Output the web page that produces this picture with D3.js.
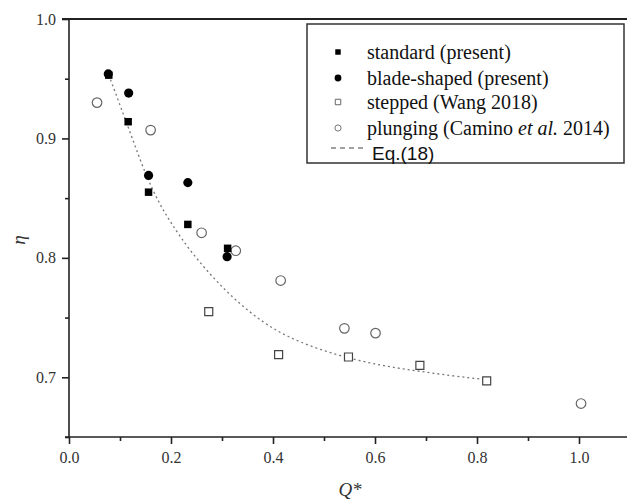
<!DOCTYPE html>
<html>
<head>
<meta charset="utf-8">
<script src="https://cdn.jsdelivr.net/npm/d3@7"></script>
<style>
  html, body { margin: 0; padding: 0; background: #fff; }
  svg { display: block; }
</style>
</head>
<body>
<svg id="chart" width="627" height="500"></svg>
<script>
// Efficiency eta versus dimensionless discharge Q*
const standardQ   = [0.078, 0.116, 0.156, 0.233, 0.311];
const standardEta = [0.953, 0.914, 0.855, 0.828, 0.808];

const bladeQ   = [0.077, 0.117, 0.156, 0.233, 0.310];
const bladeEta = [0.954, 0.938, 0.869, 0.863, 0.801];

const steppedQ   = [0.274, 0.411, 0.548, 0.688, 0.819];
const steppedEta = [0.755, 0.719, 0.717, 0.710, 0.697];

const plungingQ   = [0.055, 0.160, 0.260, 0.327, 0.415, 0.540, 0.601, 1.004];
const plungingEta = [0.930, 0.907, 0.821, 0.806, 0.781, 0.741, 0.737, 0.678];

// Eq.(18) fitted curve, sampled along its length
const eqQ   = [0.078, 0.100, 0.125, 0.150, 0.175, 0.200, 0.237, 0.283, 0.330, 0.380, 0.427, 0.492, 0.557, 0.623, 0.688, 0.754, 0.819];
const eqEta = [0.953, 0.928, 0.899, 0.870, 0.847, 0.829, 0.806, 0.783, 0.763, 0.746, 0.734, 0.723, 0.715, 0.709, 0.705, 0.701, 0.698];

const xTicks = [0.0, 0.2, 0.4, 0.6, 0.8, 1.0];
const yTicks = [0.7, 0.8, 0.9, 1.0];
const xMinor = [0.1, 0.3, 0.5, 0.7, 0.9, 1.1];
const yMinor = [0.65, 0.75, 0.85, 0.95];

const legendLabels = ["standard (present)", "blade-shaped (present)", "stepped (Wang 2018)"];

const zip = (a, b) => a.map((v, i) => [v, b[i]]);

const svg = d3.select("#chart");
const x = d3.scaleLinear().domain([0, 1.1]).range([69, 630]);
const y = d3.scaleLinear().domain([0.65, 1.0]).range([437, 19]);

const serif = "'Liberation Serif', 'Times New Roman', serif";
const axisColor = "#222";

// top frame line
svg.append("line")
  .attr("x1", 62).attr("x2", 627).attr("y1", y(1.0)).attr("y2", y(1.0))
  .attr("stroke", axisColor).attr("stroke-width", 2);

// axes
const xAxis = svg.append("g").attr("transform", `translate(0,${y(0.65)})`)
  .call(d3.axisBottom(x).tickValues(xTicks).tickFormat(d3.format(".1f")).tickSize(7).tickPadding(8));
svg.append("g").attr("transform", `translate(0,${y(0.65)})`)
  .call(d3.axisBottom(x).tickValues(xMinor).tickFormat("").tickSize(4))
  .call(g => g.select(".domain").remove());

const yAxis = svg.append("g").attr("transform", `translate(${x(0)},0)`)
  .call(d3.axisLeft(y).tickValues(yTicks).tickFormat(d3.format(".1f")).tickSize(7).tickPadding(6));
svg.append("g").attr("transform", `translate(${x(0)},0)`)
  .call(d3.axisLeft(y).tickValues(yMinor).tickFormat("").tickSize(4))
  .call(g => g.select(".domain").remove());

svg.selectAll("g").attr("font-family", serif);
svg.selectAll(".domain").attr("stroke", axisColor).attr("stroke-width", 1.6);
xAxis.select(".domain").attr("d", `M${x(0) - 4},0H627`);
yAxis.select(".domain").attr("d", `M0,${y(1.0)}V${y(0.65)}`);
svg.selectAll(".tick line").attr("stroke", axisColor).attr("stroke-width", 1.6);
svg.selectAll(".tick text")
  .attr("font-family", serif).attr("font-size", 16).attr("fill", "#333");

// axis titles
svg.append("text")
  .attr("x", 350).attr("y", 496)
  .attr("text-anchor", "middle")
  .attr("font-family", serif).attr("font-style", "italic").attr("font-size", 19).attr("fill", "#333")
  .text("Q*");
svg.append("text")
  .attr("transform", "translate(25,240) rotate(-90)")
  .attr("text-anchor", "middle")
  .attr("font-family", serif).attr("font-style", "italic").attr("font-size", 19).attr("fill", "#333")
  .text("η");

// Eq.(18) curve
svg.append("path")
  .datum(zip(eqQ, eqEta))
  .attr("fill", "none").attr("stroke", "#777").attr("stroke-width", 1.3)
  .attr("stroke-dasharray", "2,3")
  .attr("d", d3.line().x(d => x(d[0])).y(d => y(d[1])).curve(d3.curveBasis));

const sq = d3.symbol().type(d3.symbolSquare);
const ci = d3.symbol().type(d3.symbolCircle);

// stepped: open squares
svg.append("g").selectAll("path").data(zip(steppedQ, steppedEta)).join("path")
  .attr("transform", d => `translate(${x(d[0])},${y(d[1])})`)
  .attr("d", sq.size(64)()).attr("fill", "#fff").attr("stroke", "#444").attr("stroke-width", 1.2);

// plunging: open circles
svg.append("g").selectAll("path").data(zip(plungingQ, plungingEta)).join("path")
  .attr("transform", d => `translate(${x(d[0])},${y(d[1])})`)
  .attr("d", ci.size(72)()).attr("fill", "#fff").attr("stroke", "#666").attr("stroke-width", 1.2);

// blade-shaped: filled circles
svg.append("g").selectAll("path").data(zip(bladeQ, bladeEta)).join("path")
  .attr("transform", d => `translate(${x(d[0])},${y(d[1])})`)
  .attr("d", ci.size(66)()).attr("fill", "#000");

// standard: filled squares
svg.append("g").selectAll("path").data(zip(standardQ, standardEta)).join("path")
  .attr("transform", d => `translate(${x(d[0])},${y(d[1])})`)
  .attr("d", sq.size(56)()).attr("fill", "#000");

// legend
const lg = svg.append("g");
lg.append("rect")
  .attr("x", 307).attr("y", 24).attr("width", 317).attr("height", 139)
  .attr("fill", "#fff").attr("stroke", "#333").attr("stroke-width", 1.5);

const rowsY = [52, 78, 102, 128];
const symX = 338;
const textX = 367;
lg.append("path").attr("transform", `translate(${symX},${rowsY[0]})`)
  .attr("d", sq.size(30)()).attr("fill", "#000");
lg.append("path").attr("transform", `translate(${symX},${rowsY[1]})`)
  .attr("d", ci.size(36)()).attr("fill", "#000");
lg.append("path").attr("transform", `translate(${symX},${rowsY[2]})`)
  .attr("d", sq.size(30)()).attr("fill", "#fff").attr("stroke", "#666").attr("stroke-width", 1);
lg.append("path").attr("transform", `translate(${symX},${rowsY[3]})`)
  .attr("d", ci.size(30)()).attr("fill", "#fff").attr("stroke", "#777").attr("stroke-width", 1);

legendLabels.forEach((t, i) => {
  lg.append("text")
    .attr("x", textX).attr("y", rowsY[i]).attr("dy", "0.35em")
    .attr("font-family", serif).attr("font-size", 20).attr("fill", "#111")
    .text(t);
});
const pl = lg.append("text")
  .attr("x", textX).attr("y", rowsY[3]).attr("dy", "0.35em")
  .attr("font-family", serif).attr("font-size", 20).attr("fill", "#111");
pl.append("tspan").text("plunging (Camino ");
pl.append("tspan").attr("font-style", "italic").text("et al.");
pl.append("tspan").text(" 2014)");

lg.append("line")
  .attr("x1", 331).attr("x2", 366).attr("y1", 148).attr("y2", 148)
  .attr("stroke", "#444").attr("stroke-width", 1.2).attr("stroke-dasharray", "5,4");
lg.append("text")
  .attr("x", 372).attr("y", 160)
  .attr("font-family", "'Liberation Sans', Arial, sans-serif").attr("font-size", 19).attr("fill", "#111")
  .text("Eq.(18)");
</script>
</body>
</html>
